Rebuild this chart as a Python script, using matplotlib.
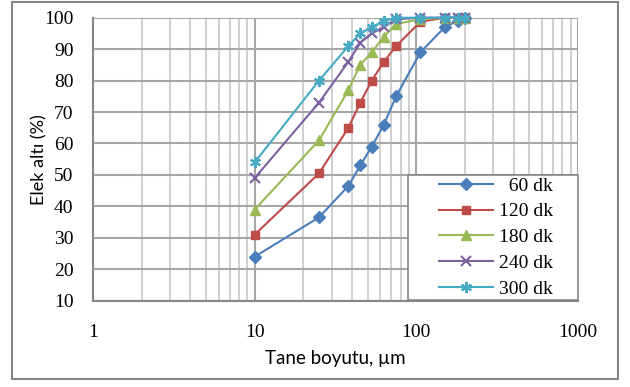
import matplotlib
matplotlib.use("Agg")
import matplotlib.pyplot as plt
from matplotlib.patches import Rectangle
from matplotlib.ticker import LogLocator, FixedLocator, NullFormatter

# particle size (um) and cumulative passing (%) per grinding time
sizes = [10, 25, 38, 45, 53, 63, 75, 106, 150, 180, 200]
dk60 = [24, 36.5, 46.5, 53, 59, 66, 75, 89, 97, 99, 100]
dk120 = [31, 50.5, 65, 73, 80, 86, 91, 98.7, 100, 100, 100]
dk180 = [39, 61, 77, 85, 89, 94, 98, 99.5, 100, 100, 100]
dk240 = [49, 73, 86, 92, 95, 97, 99.5, 100, 100, 100, 100]
dk300 = [54, 80, 91, 95, 97, 99, 100, 100, 100, 100, 100]

series = [
    ("  60 dk", dk60, "#4A7EBB", "D", 6),
    ("120 dk", dk120, "#BE4B48", "s", 6),
    ("180 dk", dk180, "#98B954", "^", 7),
    ("240 dk", dk240, "#7D60A0", "x", 7),
    ("300 dk", dk300, "#46AAC5", (6, 2, 0), 8),
]

SERIF = ["Liberation Serif", "DejaVu Serif"]
SANS = ["Lato", "DejaVu Sans"]
W, H = 630, 387

fig = plt.figure(figsize=(6.3, 3.87), dpi=100)
fig.patches.append(Rectangle((12 / W, 1 - 379 / H), 606 / W, 377 / H,
                             transform=fig.transFigure, fill=False,
                             edgecolor="#868686", lw=1.5))
ax = fig.add_axes([93 / W, 1 - 300.7 / H, 485 / W, 283 / H])

for label, vals, color, marker, ms in series:
    mk = dict(marker=marker, markersize=ms, markerfacecolor=color,
              markeredgecolor=color)
    if marker == "x" or isinstance(marker, tuple):
        mk["markeredgewidth"] = 1.5
    ax.plot(sizes, vals, color=color, lw=1.5, label=label, clip_on=False,
            zorder=3, **mk)

ax.set_xscale("log")
ax.set_xlim(1, 1000)
ax.set_ylim(10, 100)
ax.yaxis.set_major_locator(FixedLocator(range(10, 101, 10)))
ax.xaxis.set_major_locator(FixedLocator([1, 10, 100, 1000]))
ax.xaxis.set_minor_locator(LogLocator(base=10, subs=range(2, 10)))
ax.xaxis.set_minor_formatter(NullFormatter())
ax.set_xticklabels(["1", "10", "100", "1000"])

ax.grid(which="major", color="#A6A6A6", lw=1.5)
ax.grid(which="minor", axis="x", color="#C8C8C8", lw=1.2)
ax.set_axisbelow(True)
for s in ax.spines.values():
    s.set_color("#868686")
    s.set_linewidth(1.5)
ax.spines["top"].set_visible(False)
ax.spines["right"].set_visible(False)
ax.tick_params(which="both", length=0, labelsize=14)
ax.tick_params(axis="x", pad=17)
ax.tick_params(axis="y", pad=14)
for t in ax.get_xticklabels() + ax.get_yticklabels():
    t.set_fontfamily(SERIF)

ax.set_xlabel("Tane boyutu, µm", fontsize=13.5, family=SANS, labelpad=6)
ax.set_ylabel("Elek altı (%)", fontsize=13, family=SANS, labelpad=-2)

# legend frame drawn separately so it can be wider than the entries
x0, x1 = 408, 578
y0, y1 = 175, 300
fig.patches.append(Rectangle((x0 / W, 1 - y1 / H), (x1 - x0) / W, (y1 - y0) / H,
                             transform=fig.transFigure, facecolor="white",
                             edgecolor="#868686", lw=1.2, zorder=4))
leg = fig.legend(*ax.get_legend_handles_labels(), loc="upper right",
                 bbox_to_anchor=(553 / W, 1 - 177 / H), frameon=False,
                 prop={"family": SERIF, "size": 14},
                 handlelength=2.8, handletextpad=0.3, borderpad=0.0,
                 labelspacing=0.42, borderaxespad=0.0)
leg.set_zorder(5)

fig.savefig("out.png", dpi=100)
